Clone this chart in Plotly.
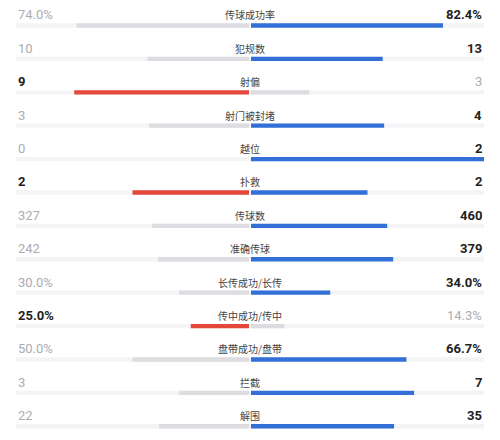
import plotly.graph_objects as go

# match stats, home (left) vs away (right)
labels = ['传球成功率', '犯规数', '射偏', '射门被封堵', '越位', '扑救', '传球数',
          '准确传球', '长传成功/长传', '传中成功/传中', '盘带成功/盘带', '拦截', '解围']
home = [74.0, 10, 9, 3, 0, 2, 327, 242, 30.0, 25.0, 50.0, 3, 22]
away = [82.4, 13, 3, 4, 2, 2, 460, 379, 34.0, 14.3, 66.7, 7, 35]
is_pct = [True, False, False, False, False, False, False, False, True, True, True, False, False]

RED = '#e4483b'
BLUE = '#3270d8'
GREY = '#dcdce1'
TRACK = '#f4f4f6'
DARK = '#222222'
LIGHT = '#acacb4'

rows = list(range(len(labels)))
gap = 1 / 233.0
edge = 234 / 233.0

# bar share: percentages as-is, counts as share of total
left_frac, right_frac = [], []
for h, a, p in zip(home, away, is_pct):
    if p:
        left_frac.append(h / 100.0)
        right_frac.append(a / 100.0)
    else:
        tot = h + a
        left_frac.append(h / tot if tot else 0)
        right_frac.append(a / tot if tot else 0)

left_col = [RED if h >= a else GREY for h, a in zip(home, away)]
right_col = [BLUE if a >= h else GREY for h, a in zip(home, away)]


def fmt(v, p):
    return f'{v:.1f}%' if p else str(int(v))


fig = go.Figure()
fig.add_trace(go.Bar(y=rows, x=[2 * edge] * len(rows), base=-edge, orientation='h',
                     width=0.13, marker=dict(color=TRACK, line_width=0), hoverinfo='skip'))
fig.add_trace(go.Bar(y=rows, x=[-f for f in left_frac], base=-gap, orientation='h',
                     width=0.13, marker=dict(color=left_col, line_width=0)))
fig.add_trace(go.Bar(y=rows, x=right_frac, base=gap, orientation='h',
                     width=0.13, marker=dict(color=right_col, line_width=0)))

ann = []
for i in rows:
    h, a, p = home[i], away[i], is_pct[i]
    ty = i - 0.32
    hw = h >= a
    aw = a >= h
    ann.append(dict(x=-edge, y=ty, xanchor='left', yanchor='middle', showarrow=False,
                    text=f'<b>{fmt(h, p)}</b>' if hw else fmt(h, p),
                    font=dict(family='Roboto', size=13, color=DARK if hw else LIGHT)))
    ann.append(dict(x=edge, y=ty, xanchor='right', yanchor='middle', showarrow=False,
                    text=f'<b>{fmt(a, p)}</b>' if aw else fmt(a, p),
                    font=dict(family='Roboto', size=13, color=DARK if aw else LIGHT)))
    ann.append(dict(x=0, y=ty, xanchor='center', yanchor='middle', showarrow=False,
                    text=labels[i],
                    font=dict(family='Noto Sans CJK SC', size=10, color='#444444')))

fig.update_layout(
    width=500, height=440,
    margin=dict(l=0, r=0, t=0, b=0),
    barmode='overlay',
    showlegend=False,
    plot_bgcolor='white', paper_bgcolor='white',
    xaxis=dict(range=[-242 / 233.0, 258 / 233.0], visible=False, fixedrange=True),
    yaxis=dict(range=[12.65, -0.524], visible=False, fixedrange=True),
    annotations=ann,
)

fig.write_html('out.html')
